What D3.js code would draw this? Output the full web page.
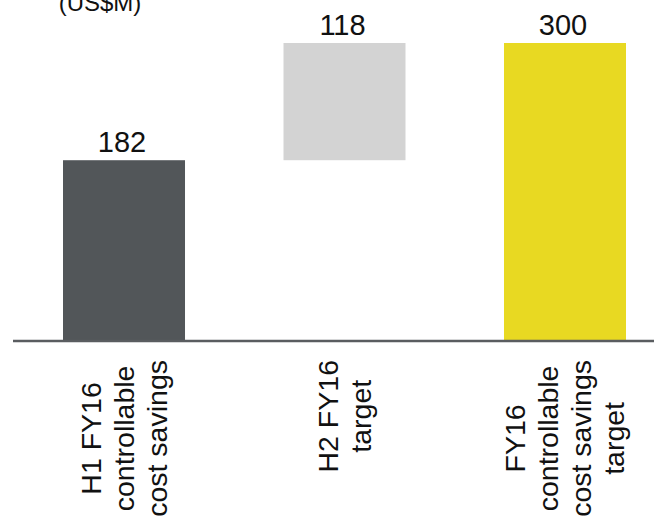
<!DOCTYPE html>
<html>
<head>
<meta charset="utf-8">
<script src="https://cdn.jsdelivr.net/npm/d3@7"></script>
<style>
  html, body { margin: 0; padding: 0; background: #fff; }
  svg { display: block; font-family: "Liberation Sans", Arial, sans-serif; }
</style>
</head>
<body>
<svg id="chart" width="654" height="518"></svg>
<script>
// ---- data ----
const categories = ["H1 FY16 controllable cost savings", "H2 FY16 target", "FY16 controllable cost savings target"];
const categoryLines = [
  ["H1 FY16", "controllable", "cost savings"],
  ["H2 FY16", "target"],
  ["FY16", "controllable", "cost savings", "target"]
];
const values = [182, 118, 300];
const barTypes = ["start", "delta", "total"];
const barColors = ["#525659", "#d3d3d3", "#e8d922"];
const unitLabel = "(US$M)";

// ---- layout ----
const W = 654, H = 518;
const axisY = 341;
const svg = d3.select("#chart");

const x = d3.scaleBand()
  .domain(categories)
  .range([13.75, 675.25])
  .paddingInner(0.4467)
  .paddingOuter(0.2234);

const y = d3.scaleLinear().domain([0, 300]).range([axisY, 43]);

// compute waterfall bases
let running = 0;
const bars = categories.map((c, i) => {
  let base, top;
  if (barTypes[i] === "start" || barTypes[i] === "total") {
    base = 0; top = values[i]; running = values[i];
  } else {
    base = running; top = running + values[i]; running = top;
  }
  return { cat: c, base, top, value: values[i], color: barColors[i], lines: categoryLines[i] };
});

// bars
svg.append("g").selectAll("rect").data(bars).join("rect")
  .attr("x", d => x(d.cat))
  .attr("width", x.bandwidth())
  .attr("y", d => y(d.top))
  .attr("height", d => y(d.base) - y(d.top))
  .attr("fill", d => d.color);

// axis line
svg.append("line")
  .attr("x1", 13).attr("x2", W)
  .attr("y1", axisY).attr("y2", axisY)
  .attr("stroke", "#5a5d60").attr("stroke-width", 2.3);

// value labels
svg.append("g").selectAll("text").data(bars).join("text")
  .attr("x", d => x(d.cat) + x.bandwidth() / 2 - 2)
  .attr("y", d => y(d.top) - 8)
  .attr("text-anchor", "middle")
  .attr("font-size", 29)
  .attr("fill", "#111")
  .text(d => d.value);

// unit label
svg.append("text")
  .attr("x", 100).attr("y", 11)
  .attr("text-anchor", "middle")
  .attr("font-size", 24)
  .attr("fill", "#111")
  .text(unitLabel);

// category labels (rotated)
const lineH = 33;
bars.forEach(d => {
  const cx = x(d.cat) + x.bandwidth() / 2;
  const g = svg.append("g");
  const t = g.append("text")
    .attr("text-anchor", "middle")
    .attr("font-size", 28.5)
    .attr("fill", "#111");
  const n = d.lines.length;
  d.lines.forEach((ln, i) => {
    t.append("tspan").attr("x", 0).attr("y", (i - (n - 1) / 2) * lineH + 10).text(ln);
  });
  let maxLen = 0;
  t.selectAll("tspan").each(function () { maxLen = Math.max(maxLen, this.getComputedTextLength()); });
  const cy = axisY + 19 + maxLen / 2;
  g.attr("transform", `translate(${cx},${cy}) rotate(-90)`);
});
</script>
</body>
</html>
